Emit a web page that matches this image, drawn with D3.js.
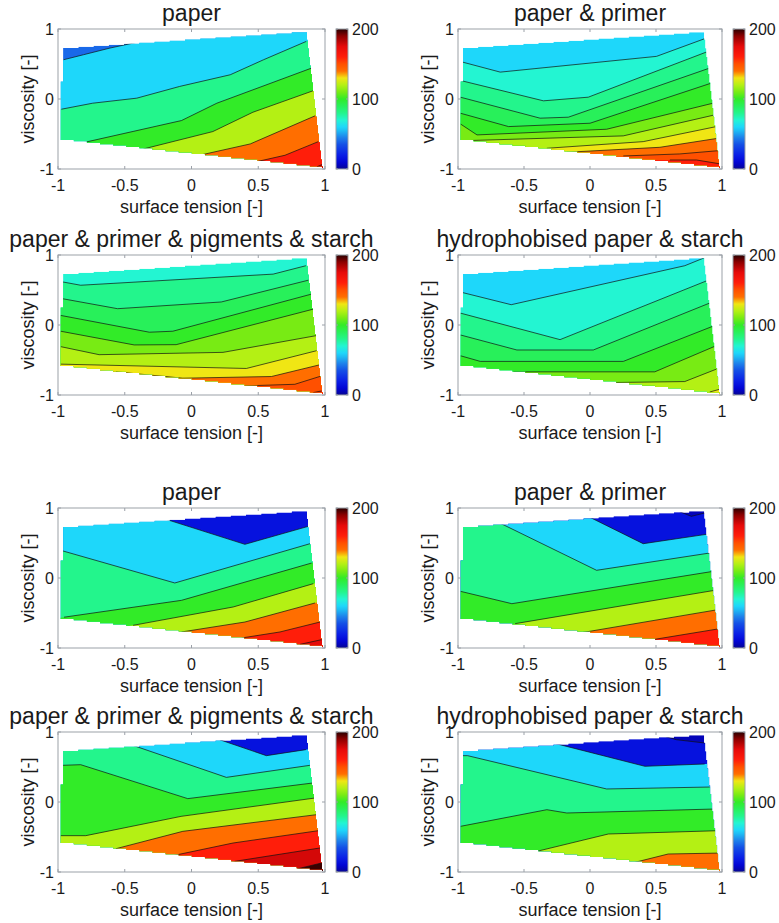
<!DOCTYPE html>
<html lang="en">
<head>
<meta charset="utf-8">
<title>contour maps</title>
<script src="https://d3js.org/d3.v7.min.js"></script>
<style>
  body { margin: 0; background: #fff; }
  text { font-family: "Liberation Sans", Arial, sans-serif; fill: #1a1a1a; }
</style>
</head>
<body>
<script>
var xTicks = [-1, -0.5, 0, 0.5, 1];
var yTicks = [-1, 0, 1];
var cbTicks = [0, 100, 200];
var titles = ["paper", "paper & primer", "paper & primer & pigments & starch", "hydrophobised paper & starch",
  "paper", "paper & primer", "paper & primer & pigments & starch", "hydrophobised paper & starch"];
var xLabel = "surface tension [-]";
var yLabel = "viscosity [-]";

// colour map, value -> colour
var cmapValues = [0, 8, 20, 35, 45, 55, 60, 70, 80, 90, 100, 110, 120, 130, 140, 150, 160, 175, 190, 200];
var cmapColors = ["#08088c", "#0000d2", "#0a1ee6", "#1450e6", "#1e82eb", "#1ebef5", "#1ed7fa", "#23f5d2",
  "#23f58c", "#28f05a", "#32eb28", "#78eb14", "#b4f014", "#f0e614", "#ff6e00", "#ff5000", "#ff1e0a",
  "#e60a0a", "#8c0000", "#280000"];

// corners of the measured region (surface tension, viscosity)
var regionCorners = [[-0.962, 0.73], [0.865, 0.967], [0.985, -0.985], [-0.98, -0.585]];

// band values (lowest first) and contour lines between them
var levels1 = [40, 60, 80, 100, 120, 140, 160, 180];
var contours1 = [
  [[-0.958, 0.561], [-0.81, 0.632], [-0.61, 0.728], [-0.41, 0.81]],
  [[-0.975, -0.146], [-0.74, -0.06], [-0.41, 0.012], [-0.09, 0.179], [0.29, 0.346], [0.54, 0.561], [0.86, 0.823]],
  [[-0.81, -0.623], [-0.075, -0.308], [0.19, -0.06], [0.9, 0.442]],
  [[-0.36, -0.714], [0.16, -0.465], [0.46, -0.189], [0.91, 0.117]],
  [[0.06, -0.804], [0.44, -0.642], [0.925, -0.241]],
  [[0.5, -0.89], [0.7, -0.804], [0.95, -0.609]],
  [[0.94, -0.967], [0.99, -0.928]]
];
var levels2 = [60, 70, 80, 90, 100, 110, 120, 130, 140, 150, 160];
var contours2 = [
  [[-0.965, 0.527], [-0.68, 0.384], [0.504, 0.609], [0.869, 0.862]],
  [[-0.982, 0.265], [-0.353, -0.026], [-0.013, 0.026], [0.882, 0.671]],
  [[-0.982, 0.026], [-0.378, -0.274], [-0.164, -0.26], [0.907, 0.442]],
  [[-0.982, -0.203], [-0.617, -0.394], [0, -0.346], [0.919, 0.227]],
  [[-0.982, -0.356], [-0.856, -0.513], [0.126, -0.432], [0.932, -0.06]],
  [[-0.94, -0.595], [0.252, -0.527], [0.945, -0.227]],
  [[-0.327, -0.704], [0.403, -0.609], [0.957, -0.394]],
  [[-0.176, -0.761], [0.529, -0.69], [0.97, -0.561]],
  [[0.252, -0.814], [0.68, -0.785], [0.982, -0.737]],
  [[0.605, -0.871], [0.806, -0.871], [0.99, -0.928]]
];
var levels3 = [70, 80, 90, 100, 110, 120, 130, 140, 150, 160];
var contours3 = [
  [[-0.967, 0.616], [-0.83, 0.568], [0.612, 0.727], [0.857, 0.847]],
  [[-0.967, 0.376], [-0.554, 0.233], [0.223, 0.329], [0.875, 0.64]],
  [[-0.98, 0.137], [-0.316, -0.103], [-0.14, -0.089], [0.912, 0.448]],
  [[-0.98, -0.089], [-0.429, -0.285], [-0.115, -0.281], [0.925, 0.233]],
  [[-0.98, -0.309], [-0.692, -0.424], [0.236, -0.391], [0.937, -0.151]],
  [[-0.98, -0.559], [0.411, -0.621], [0.937, -0.367]],
  [[-0.566, -0.669], [-0.065, -0.76], [0.599, -0.736], [0.962, -0.568]],
  [[0.4, -0.87], [0.774, -0.847], [0.975, -0.727]],
  [[0.912, -0.966], [0.975, -0.942]]
];
var levels4 = [60, 70, 80, 90, 100, 110, 120, 130];
var contours4 = [
  [[-0.965, 0.463], [-0.597, 0.29], [0.718, 0.847], [0.869, 0.962]],
  [[-0.982, 0.17], [-0.227, -0.209], [0.882, 0.63]],
  [[-0.982, -0.142], [-0.554, -0.357], [0.025, -0.357], [0.907, 0.314]],
  [[-0.982, -0.439], [-0.831, -0.52], [0.252, -0.52], [0.945, -0.007]],
  [[-0.579, -0.669], [0.491, -0.669], [0.957, -0.295]],
  [[0.126, -0.823], [0.718, -0.808], [0.957, -0.631]],
  [[0.907, -0.957], [0.982, -0.918]]
];
var levels5 = [15, 60, 80, 100, 120, 140, 160, 175];
var contours5 = [
  [[-0.19, 0.838], [0.4, 0.481], [0.875, 0.738]],
  [[-0.9625, 0.386], [-0.125, -0.071], [0.8875, 0.49]],
  [[-0.955, -0.56], [-0.075, -0.319], [0.9, 0.214]],
  [[-0.4375, -0.676], [0.3125, -0.414], [0.9125, -0.081]],
  [[-0.075, -0.771], [0.4, -0.629], [0.925, -0.357]],
  [[0.375, -0.857], [0.6625, -0.771], [0.9625, -0.629]],
  [[0.8125, -0.948], [0.975, -0.881]]
];
var levels6 = [5, 15, 60, 80, 100, 120, 140, 160];
var contours6 = [
  [[0.667, 0.957], [0.768, 0.881], [0.869, 0.929]],
  [[-0.005, 0.871], [0.403, 0.49], [0.882, 0.624]],
  [[-0.673, 0.776], [0.05, 0.11], [0.907, 0.357]],
  [[-0.982, -0.19], [-0.592, -0.367], [0.932, 0.095]],
  [[-0.567, -0.652], [0.945, -0.176]],
  [[-0.063, -0.781], [0.97, -0.452]],
  [[0.491, -0.876], [0.982, -0.724]]
];
var levels7 = [15, 60, 80, 100, 120, 140, 160, 178, 198];
var contours7 = [
  [[0.211, 0.89], [0.561, 0.662], [0.857, 0.748]],
  [[-0.454, 0.819], [0.261, 0.352], [0.887, 0.524]],
  [[-0.967, 0.524], [-0.83, 0.533], [-0.028, 0.048], [0.907, 0.271]],
  [[-0.98, -0.481], [-0.792, -0.481], [-0.078, -0.205], [0.925, 0.057]],
  [[-0.566, -0.667], [-0.065, -0.419], [0.937, -0.181]],
  [[-0.128, -0.762], [0.311, -0.586], [0.95, -0.41]],
  [[0.323, -0.848], [0.962, -0.657]],
  [[0.8, -0.952], [0.975, -0.871]]
];
var levels8 = [5, 15, 60, 80, 100, 120, 140];
var contours8 = [
  [[0.567, 0.938], [0.655, 0.89], [0.869, 0.843]],
  [[-0.257, 0.833], [0.416, 0.51], [0.869, 0.543]],
  [[-0.962, 0.662], [-0.927, 0.662], [0.126, 0.186], [0.907, 0.214]],
  [[-0.982, -0.348], [-0.327, -0.11], [-0.176, -0.157], [0.945, -0.1]],
  [[-0.403, -0.705], [0.139, -0.457], [0.97, -0.41]],
  [[0.34, -0.862], [0.592, -0.743], [0.995, -0.729]]
];

var panels = [
  { levels: levels1, contours: contours1 }, { levels: levels2, contours: contours2 },
  { levels: levels3, contours: contours3 }, { levels: levels4, contours: contours4 },
  { levels: levels5, contours: contours5 }, { levels: levels6, contours: contours6 },
  { levels: levels7, contours: contours7 }, { levels: levels8, contours: contours8 }
];

var W = 779, H = 923;
var colLeft = [58, 458], colRight = [325, 722];
var rowTop = [29, 255, 508, 732], axH = 140;
var cbGap = 11, cbW = 12;
var boxColor = "#9ba1a8";

var cmap = d3.scaleLinear().domain(cmapValues).range(cmapColors).interpolate(d3.interpolateRgb);

var svg = d3.select("body").append("svg").attr("width", W).attr("height", H);
var defs = svg.append("defs");

var grad = defs.append("linearGradient").attr("id", "cbgrad")
  .attr("x1", 0).attr("y1", 1).attr("x2", 0).attr("y2", 0);
grad.selectAll("stop").data(d3.range(0, 201, 5)).enter().append("stop")
  .attr("offset", function(d) { return d / 200; })
  .attr("stop-color", function(d) { return cmap(d); });

// measured region with the stepped edges of the gridded data
function stairs(p, q, n, hFirst) {
  var out = [];
  for (var i = 0; i < n; i++) {
    var a = [p[0] + (q[0] - p[0]) * i / n, p[1] + (q[1] - p[1]) * i / n];
    var b = [p[0] + (q[0] - p[0]) * (i + 1) / n, p[1] + (q[1] - p[1]) * (i + 1) / n];
    out.push(hFirst ? [b[0], a[1]] : [a[0], b[1]], b);
  }
  return out;
}
var tl = regionCorners[0], tr = regionCorners[1], br = regionCorners[2], bl = regionCorners[3];
var region = [tl].concat(stairs(tl, tr, 16, true), stairs(tr, br, 16, false), stairs(br, bl, 20, false),
  [[bl[0], 0.25], [tl[0], 0.25]]);

// polygon covering the higher-valued side of a contour line (right of travel)
var B = 40;
var farCorners = [[B, B, 45], [-B, B, 135], [-B, -B, 225], [B, -B, 315]];
function angle(p) { return (Math.atan2(p[1], p[0]) * 180 / Math.PI + 360) % 360; }
function pushOut(from, to, len) {
  var dx = to[0] - from[0], dy = to[1] - from[1], m = Math.hypot(dx, dy);
  return [to[0] + dx / m * len, to[1] + dy / m * len];
}
function higherSide(pts) {
  var n = pts.length;
  var s = pushOut(pts[1], pts[0], 4), e = pushOut(pts[n - 2], pts[n - 1], 4);
  var a = angle(e), span = ((a - angle(s)) % 360 + 360) % 360;
  var cs = farCorners.map(function(c) { return { p: [c[0], c[1]], d: ((a - c[2]) % 360 + 360) % 360 }; })
    .filter(function(c) { return c.d < span; })
    .sort(function(u, v) { return u.d - v.d; })
    .map(function(c) { return c.p; });
  return [s].concat(pts, [e], cs);
}

panels.forEach(function(pn, k) {
  var col = k % 2, row = Math.floor(k / 2);
  var x0 = colLeft[col], x1 = colRight[col], y0 = rowTop[row], y1 = rowTop[row] + axH;
  var x = d3.scaleLinear().domain([-1, 1]).range([x0, x1]);
  var y = d3.scaleLinear().domain([-1, 1]).range([y1, y0]);
  var line = d3.line().x(function(d) { return x(d[0]); }).y(function(d) { return y(d[1]); });

  defs.append("clipPath").attr("id", "clip" + k)
    .append("path").attr("d", line(region) + "Z");

  var g = svg.append("g");
  var inner = g.append("g").attr("clip-path", "url(#clip" + k + ")");

  inner.append("path").attr("d", line(region) + "Z").attr("fill", cmap(pn.levels[0]));
  inner.selectAll("path.band").data(pn.contours).enter().append("path")
    .attr("class", "band")
    .attr("d", function(d) { return line(higherSide(d)) + "Z"; })
    .attr("fill", function(d, i) { return cmap(pn.levels[i + 1]); });
  inner.selectAll("path.iso").data(pn.contours).enter().append("path")
    .attr("class", "iso")
    .attr("d", function(d) { return line(d); })
    .attr("fill", "none").attr("stroke", "#111").attr("stroke-width", 0.7);

  // axes box and inward ticks
  g.append("rect").attr("x", x0).attr("y", y0).attr("width", x1 - x0).attr("height", y1 - y0)
    .attr("fill", "none").attr("stroke", boxColor).attr("stroke-width", 1);
  xTicks.forEach(function(t) {
    g.append("line").attr("x1", x(t)).attr("x2", x(t)).attr("y1", y1).attr("y2", y1 - 3).attr("stroke", boxColor);
    g.append("line").attr("x1", x(t)).attr("x2", x(t)).attr("y1", y0).attr("y2", y0 + 3).attr("stroke", boxColor);
    g.append("text").attr("x", x(t)).attr("y", y1 + 22).attr("text-anchor", "middle")
      .attr("font-size", 16).text(t);
  });
  yTicks.forEach(function(t) {
    g.append("line").attr("x1", x0).attr("x2", x0 + 3).attr("y1", y(t)).attr("y2", y(t)).attr("stroke", boxColor);
    g.append("line").attr("x1", x1).attr("x2", x1 - 3).attr("y1", y(t)).attr("y2", y(t)).attr("stroke", boxColor);
    g.append("text").attr("x", x0 - 4).attr("y", y(t)).attr("dy", "0.36em").attr("text-anchor", "end")
      .attr("font-size", 16).text(t);
  });

  g.append("text").attr("x", (x0 + x1) / 2).attr("y", y0 - 8).attr("text-anchor", "middle")
    .attr("font-size", 23).text(titles[k]);
  g.append("text").attr("x", (x0 + x1) / 2).attr("y", y1 + 44).attr("text-anchor", "middle")
    .attr("font-size", 18).text(xLabel);
  g.append("text").attr("transform", "translate(" + (x0 - 24) + "," + ((y0 + y1) / 2) + ") rotate(-90)")
    .attr("text-anchor", "middle").attr("font-size", 18).text(yLabel);

  // colour bar
  var cx0 = x1 + cbGap, cx1 = cx0 + cbW;
  var cy = d3.scaleLinear().domain([0, 200]).range([y1, y0]);
  g.append("rect").attr("x", cx0).attr("y", y0).attr("width", cbW).attr("height", axH)
    .attr("fill", "url(#cbgrad)").attr("stroke", boxColor).attr("stroke-width", 1);
  cbTicks.forEach(function(t) {
    g.append("line").attr("x1", cx0).attr("x2", cx0 + 2).attr("y1", cy(t)).attr("y2", cy(t)).attr("stroke", boxColor);
    g.append("line").attr("x1", cx1).attr("x2", cx1 - 2).attr("y1", cy(t)).attr("y2", cy(t)).attr("stroke", boxColor);
    g.append("text").attr("x", cx1 + 4).attr("y", cy(t)).attr("dy", "0.36em")
      .attr("font-size", 16).text(t);
  });
});
</script>
</body>
</html>
